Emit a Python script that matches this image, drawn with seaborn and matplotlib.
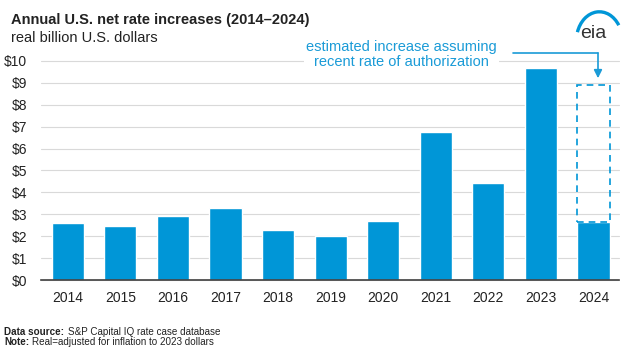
import matplotlib
matplotlib.use("Agg")
import matplotlib.pyplot as plt
import seaborn as sns
import pandas as pd
from matplotlib.patches import Arc

years = ["2014", "2015", "2016", "2017", "2018", "2019", "2020", "2021", "2022", "2023", "2024"]
increase = [2.6, 2.47, 2.9, 3.3, 2.28, 2.0, 2.7, 6.76, 4.43, 9.68, 2.65]
estimate_2024 = 8.9
yticks = [0, 1, 2, 3, 4, 5, 6, 7, 8, 9, 10]

BLUE = "#0096D7"
NOTE_BLUE = "#1a9bd7"
TEXT = "#222222"

sns.set_theme(style="white")
plt.rcParams["font.family"] = ["Liberation Sans", "DejaVu Sans"]

df = pd.DataFrame({"year": years, "value": increase})

fig = plt.figure(figsize=(6.25, 3.52), dpi=100)
ax = fig.add_axes([0.0656, 0.2045, 0.9244, 0.6225])

sns.barplot(data=df, x="year", y="value", color=BLUE, saturation=1, width=0.61, ax=ax, zorder=3)

# dashed outline for the estimated 2024 total
ax.bar([len(years) - 1], [estimate_2024 - increase[-1]], bottom=[increase[-1]], width=0.61,
       fill=False, edgecolor=BLUE, linestyle=(0, (4, 3)), linewidth=1.2, zorder=3)

ax.set_xlim(-0.51, 10.48)
ax.set_ylim(0, 10)
ax.set_yticks(yticks)
ax.set_yticklabels([f"${v}" for v in yticks], fontsize=10, color=TEXT)
ax.tick_params(axis="x", labelsize=10, colors=TEXT, length=0, pad=8)
ax.tick_params(axis="y", length=0, pad=10)
ax.set_xlabel("")
ax.set_ylabel("")
ax.yaxis.grid(True, color="#d9d9d9", linewidth=0.8, zorder=0)
for g in ax.get_ygridlines():
    g.set_clip_on(False)
for s in ["top", "right", "left"]:
    ax.spines[s].set_visible(False)
ax.spines["bottom"].set_color("#404040")
ax.spines["bottom"].set_linewidth(1.2)
ax.spines["bottom"].set_zorder(4)

# annotation with elbow arrow
fig.text(0.642, 0.845, "estimated increase assuming\nrecent rate of authorization",
         ha="center", va="center", fontsize=10.5, color=NOTE_BLUE, linespacing=1.05,
         bbox=dict(facecolor="white", edgecolor="none", pad=1.5), zorder=5)
fig.add_artist(plt.Line2D([513 / 625, 598 / 625], [1 - 53 / 352, 1 - 53 / 352],
                          color=NOTE_BLUE, linewidth=1.2))
fig.add_artist(plt.Line2D([598 / 625, 598 / 625], [1 - 53 / 352, 1 - 72 / 352],
                          color=NOTE_BLUE, linewidth=1.2))
ax.annotate("", xy=(598 / 625, 1 - 81 / 352), xytext=(598 / 625, 1 - 70 / 352),
            xycoords="figure fraction",
            arrowprops=dict(arrowstyle="-|>", color=NOTE_BLUE, lw=1.2, mutation_scale=12))

# title block
fig.text(0.0176, 0.944, "Annual U.S. net rate increases (2014\u20132024)", fontsize=10.5,
         fontweight="bold", color=TEXT, va="center")
fig.text(0.0176, 0.892, "real billion U.S. dollars", fontsize=10.5, color=TEXT, va="center")

# eia logo
fig.text(0.949, 0.906, "eia", fontsize=14, color="#333333", ha="center", va="center")
fig.add_artist(Arc((0.959, 0.884), 0.0736, 0.165, theta1=55, theta2=145,
                   transform=fig.transFigure, color=BLUE, linewidth=2.4))

# footer
fig.text(0.0064, 0.057, "Data source:", fontsize=7.1, fontweight="bold", color=TEXT, va="center")
fig.text(0.108, 0.057, "S&P Capital IQ rate case database", fontsize=7.1, color=TEXT, va="center")
fig.text(0.0064, 0.027, "Note:", fontsize=7.1, fontweight="bold", color=TEXT, va="center")
fig.text(0.0505, 0.027, "Real=adjusted for inflation to 2023 dollars", fontsize=7.1, color=TEXT, va="center")

fig.savefig("out.png", dpi=100)
